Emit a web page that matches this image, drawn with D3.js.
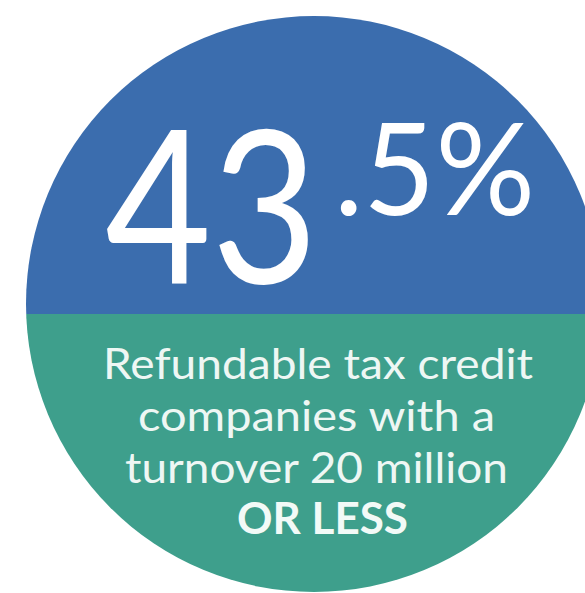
<!DOCTYPE html>
<html>
<head>
<meta charset="utf-8">
<script src="https://cdn.jsdelivr.net/npm/d3@7"></script>
<style>
  html, body { margin: 0; padding: 0; background: #ffffff; }
  svg { display: block; }
</style>
</head>
<body>
<div id="chart"></div>
<script>
// ---- data ----
const shareValue = [43.5];                 // percentage shown
const integerPart = ["43"];
const fractionPart = [".5%"];
const captionLines = ["Refundable tax credit", "companies with a", "turnover 20 million"];
const emphasisLines = ["OR LESS"];
const sectionNames = ["top", "bottom"];
const sectionColors = ["#3b6dae", "#3e9f8c"];

// ---- layout ----
const W = 585, H = 593;
const cx = 314, cy = 304, r = 288;
const splitY = 314;

const svg = d3.select("#chart").append("svg")
  .attr("width", W).attr("height", H);

const defs = svg.append("defs");
defs.append("clipPath").attr("id", "circleClip")
  .append("circle").attr("cx", cx).attr("cy", cy).attr("r", r);

// vertical band scale for the two halves
const yScale = d3.scaleOrdinal().domain(sectionNames).range([[cy - r, splitY], [splitY, cy + r]]);
const color = d3.scaleOrdinal().domain(sectionNames).range(sectionColors);

svg.append("g").attr("clip-path", "url(#circleClip)")
  .selectAll("rect").data(sectionNames).join("rect")
  .attr("x", cx - r).attr("width", 2 * r)
  .attr("y", d => yScale(d)[0])
  .attr("height", d => yScale(d)[1] - yScale(d)[0])
  .attr("fill", d => color(d));

// big number
const fmt = d3.format(".1f");
const parts = fmt(shareValue[0]).split(".");
svg.append("text")
  .attr("x", 105).attr("y", 283)
  .attr("font-family", "Lato, 'Open Sans', sans-serif")
  .attr("font-weight", 400)
  .attr("font-size", 214)
  .attr("fill", "#ffffff")
  .attr("textLength", 213)
  .attr("lengthAdjust", "spacingAndGlyphs")
  .text(integerPart[0] || parts[0]);

svg.append("text")
  .attr("x", 334).attr("y", 215)
  .attr("font-family", "Lato, 'Open Sans', sans-serif")
  .attr("font-weight", 400)
  .attr("font-size", 128)
  .attr("fill", "#ffffff")
  .attr("textLength", 201)
  .attr("lengthAdjust", "spacingAndGlyphs")
  .text(fractionPart[0] || ("." + parts[1] + "%"));

// caption
const capSpecs = [
  { x0: 103, x1: 533, y: 379 },
  { x0: 138, x1: 495, y: 431 },
  { x0: 125, x1: 508, y: 483 }
];
svg.append("g").selectAll("text").data(captionLines).join("text")
  .attr("x", (d, i) => capSpecs[i].x0)
  .attr("y", (d, i) => capSpecs[i].y)
  .attr("font-family", "Lato, 'Open Sans', sans-serif")
  .attr("font-weight", 400)
  .attr("font-size", 43)
  .attr("fill", "#eef7f4")
  .attr("textLength", (d, i) => capSpecs[i].x1 - capSpecs[i].x0)
  .attr("lengthAdjust", "spacingAndGlyphs")
  .text(d => d);

svg.append("g").selectAll("text").data(emphasisLines).join("text")
  .attr("x", 237).attr("y", 534)
  .attr("font-family", "Lato, 'Open Sans', sans-serif")
  .attr("font-weight", 700)
  .attr("font-size", 43)
  .attr("fill", "#f2faf7")
  .attr("textLength", 171)
  .attr("lengthAdjust", "spacingAndGlyphs")
  .text(d => d);
</script>
</body>
</html>
